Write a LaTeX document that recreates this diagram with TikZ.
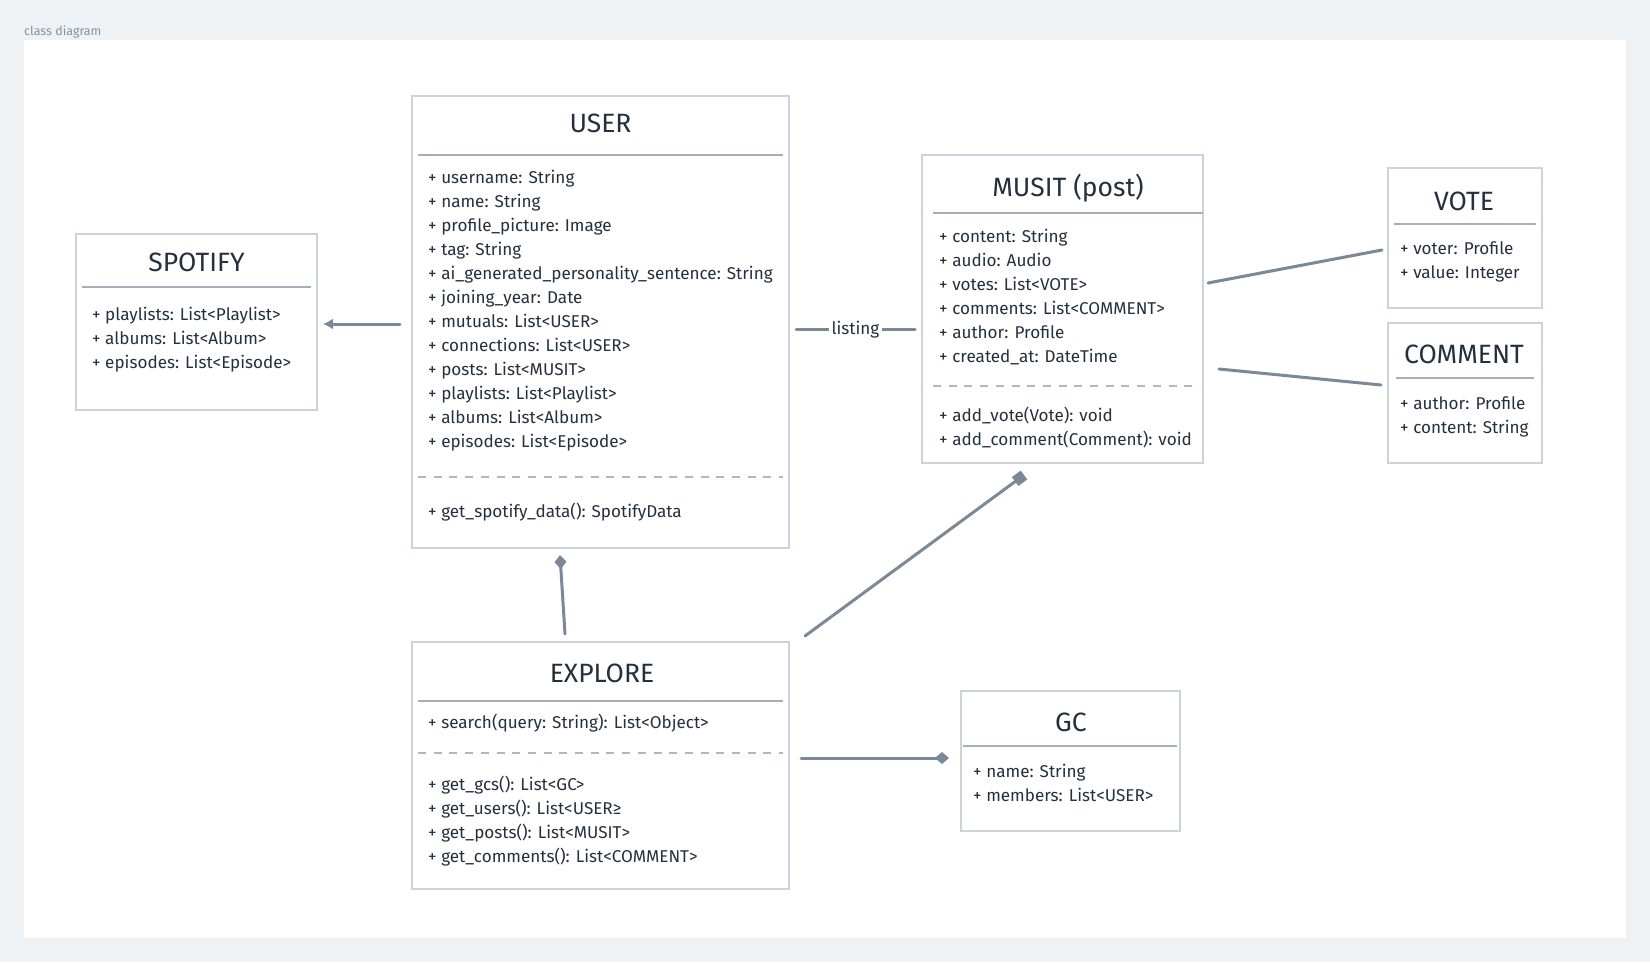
\documentclass[tikz,border=0pt]{standalone}
\usepackage{fontspec}
\setmainfont{Fira Sans}
\usetikzlibrary{arrows.meta}
\definecolor{bgc}{HTML}{EEF2F5}
\definecolor{boxc}{HTML}{C9D4DF}
\definecolor{sepc}{HTML}{A3AFBB}
\definecolor{dashc}{HTML}{AEB8C2}
\definecolor{linkc}{HTML}{7B8897}
\definecolor{txtc}{HTML}{23303D}
\definecolor{capc}{HTML}{8593A1}
\tikzset{
  classbox/.style={draw=boxc, line width=1.6pt, fill=white},
  titletext/.style={font=\fontsize{26.5}{30}\selectfont, text=txtc, inner sep=0pt, anchor=center},
  attr/.style={font=\fontsize{17.1}{20}\selectfont, text=txtc, inner sep=0pt, anchor=west, text height=12pt, text depth=3pt},
  sepline/.style={draw=sepc, line width=1.6pt},
  dashline/.style={draw=dashc, line width=1.4pt, dash pattern=on 8pt off 7.7pt},
  link/.style={draw=linkc, line width=3pt, line cap=round},
}
\begin{document}
\begin{tikzpicture}[x=1pt,y=-1pt]
\useasboundingbox (0,0) rectangle (1650,962);
\fill[bgc] (0,0) rectangle (1650,962);
% canvas with soft shadow
\fill[black!6] (25,42) rectangle (1628,941);
\fill[white] (24,40) rectangle (1626,938);
\node[font=\fontsize{12.5}{14}\selectfont, text=capc, anchor=west, inner sep=0pt] (cap) at (24,32) {class diagram};

% SPOTIFY
\draw[classbox] (76,234) rectangle (317,410);
\node[titletext] (spT) at (196.5,262) {SPOTIFY};
\draw[sepline] (82,287) -- (311,287);
\node[attr] (sp1) at (92,315.5) {+ playlists: List<Playlist>};
\node[attr] (sp2) at (92,339.5) {+ albums: List<Album>};
\node[attr] (sp3) at (92,363.5) {+ episodes: List<Episode>};

% USER
\draw[classbox] (412,96) rectangle (789,548);
\node[titletext] (usT) at (600.5,123.5) {USER};
\draw[sepline] (418,155) -- (783,155);
\node[attr] (us1) at (428,178.5) {+ username: String};
\node[attr] (us2) at (428,202.5) {+ name: String};
\node[attr] (us3) at (428,226.5) {+ profile\_picture: Image};
\node[attr] (us4) at (428,250.5) {+ tag: String};
\node[attr] (us5) at (428,274.5) {+ ai\_generated\_personality\_sentence: String};
\node[attr] (us6) at (428,298.5) {+ joining\_year: Date};
\node[attr] (us7) at (428,322.5) {+ mutuals: List<USER>};
\node[attr] (us8) at (428,346.5) {+ connections: List<USER>};
\node[attr] (us9) at (428,370.5) {+ posts: List<MUSIT>};
\node[attr] (us10) at (428,394.5) {+ playlists: List<Playlist>};
\node[attr] (us11) at (428,418.5) {+ albums: List<Album>};
\node[attr] (us12) at (428,442.5) {+ episodes: List<Episode>};
\draw[dashline] (418,477) -- (783,477);
\node[attr] (usM1) at (428,512.5) {+ get\_spotify\_data(): SpotifyData};

% MUSIT
\draw[classbox] (922,155) rectangle (1203,463);
\node[titletext] (muT) at (1068,188.5) {MUSIT (post)};
\draw[sepline] (933,213) -- (1203,213);
\node[attr] (mu1) at (939,237.5) {+ content: String};
\node[attr] (mu2) at (939,261.5) {+ audio: Audio};
\node[attr] (mu3) at (939,285.5) {+ votes: List<VOTE>};
\node[attr] (mu4) at (939,309.5) {+ comments: List<COMMENT>};
\node[attr] (mu5) at (939,333.5) {+ author: Profile};
\node[attr] (mu6) at (939,357.5) {+ created\_at: DateTime};
\draw[dashline] (933,386) -- (1197,386);
\node[attr] (muM1) at (939,416.5) {+ add\_vote(Vote): void};
\node[attr] (muM2) at (939,440.5) {+ add\_comment(Comment): void};

% VOTE
\draw[classbox] (1388,168) rectangle (1542,308);
\node[titletext] (voT) at (1464,201.5) {VOTE};
\draw[sepline] (1394,224) -- (1536,224);
\node[attr] (vo1) at (1400,249.5) {+ voter: Profile};
\node[attr] (vo2) at (1400,273.5) {+ value: Integer};

% COMMENT
\draw[classbox] (1388,323) rectangle (1542,463);
\node[titletext] (coT) at (1464,354.5) {COMMENT};
\draw[sepline] (1396,378) -- (1534,378);
\node[attr] (co1) at (1400,404.5) {+ author: Profile};
\node[attr] (co2) at (1400,428.5) {+ content: String};

% EXPLORE
\draw[classbox] (412,642) rectangle (789,889);
\node[titletext] (exT) at (602,673.5) {EXPLORE};
\draw[sepline] (418,701) -- (783,701);
\node[attr] (ex1) at (428,723.5) {+ search(query: String): List<Object>};
\draw[dashline] (418,753) -- (783,753);
\node[attr] (exM1) at (428,785.5) {+ get\_gcs(): List<GC>};
\node[attr] (exM2) at (428,809.5) {+ get\_users(): List<USER≥};
\node[attr] (exM3) at (428,833.5) {+ get\_posts(): List<MUSIT>};
\node[attr] (exM4) at (428,857.5) {+ get\_comments(): List<COMMENT>};

% GC
\draw[classbox] (961,691) rectangle (1180,831);
\node[titletext] (gcT) at (1071,722.5) {GC};
\draw[sepline] (963,746) -- (1177,746);
\node[attr] (gc1) at (973,772.5) {+ name: String};
\node[attr] (gc2) at (973,796.5) {+ members: List<USER>};

% connector end points
\coordinate (uspA) at (400,324);
\coordinate (uspB) at (323,324);
\coordinate (lsA) at (796,329);
\coordinate (lsB) at (915,329);
\coordinate (euA) at (565,634);
\coordinate (euB) at (560,555);
\coordinate (emA) at (805,636);
\coordinate (emB) at (1024,475);
\coordinate (egA) at (801,758);
\coordinate (egB) at (949,758);
\coordinate (mvA) at (1208,283);
\coordinate (mvB) at (1382,250);
\coordinate (mcA) at (1219,369);
\coordinate (mcB) at (1381,385);

\draw[link, -{Latex[length=10pt,width=11pt]}] (uspA) -- (uspB);
\draw[link] (lsA) -- node[fill=white, inner xsep=3pt, inner ysep=2pt, font=\fontsize{17.1}{20}\selectfont, text=txtc, text height=12pt, text depth=1pt] (lsL) {listing} (lsB);
\draw[link, -{Diamond[length=14pt,width=12pt]}] (euA) -- (euB);
\draw[link, -{Square[length=11pt,width=11pt]}] (emA) -- (emB);
\draw[link, -{Diamond[length=14pt,width=12pt]}] (egA) -- (egB);
\draw[link] (mvA) -- (mvB);
\draw[link] (mcA) -- (mcB);
\end{tikzpicture}
\end{document}
